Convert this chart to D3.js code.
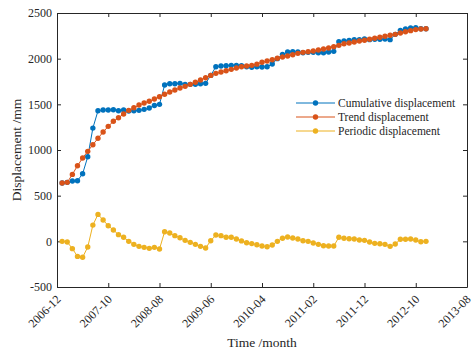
<!DOCTYPE html>
<html>
<head>
<meta charset="utf-8">
<script src="https://cdn.jsdelivr.net/npm/d3@7"></script>
<style>
  body { margin: 0; background: #fff; }
  svg { display: block; font-family: "Liberation Serif", "Times New Roman", serif; }
</style>
</head>
<body>
<div id="chart"></div>
<script>
// months counted from 2006-12 (index 0); data runs 2007-01 .. 2012-12
var tickMonths = [0, 10, 20, 30, 40, 50, 60, 70, 80];
var tickLabels = ["2006-12", "2007-10", "2008-08", "2009-06", "2010-04", "2011-02", "2011-12", "2012-10", "2013-08"];
var yTicks = [-500, 0, 500, 1000, 1500, 2000, 2500];

var cumulative = [638, 646, 660, 664, 740, 926, 1240, 1430, 1438, 1438,
  1441, 1430, 1438, 1427, 1430, 1434, 1445, 1460, 1488, 1500,
  1711, 1726, 1726, 1730, 1719, 1719, 1719, 1726, 1730, 1817,
  1912, 1919, 1923, 1927, 1927, 1923, 1912, 1905, 1912, 1908,
  1912, 1941, 2000, 2047, 2073, 2076, 2073, 2065, 2069, 2069,
  2065, 2065, 2073, 2080, 2186, 2193, 2200, 2208, 2208, 2215,
  2208, 2212, 2212, 2215, 2208, 2266, 2310, 2325, 2336, 2340,
  2328, 2328];

var trend = [638, 646, 733, 828, 912, 985, 1058, 1128, 1197, 1259,
  1314, 1353, 1394, 1434, 1463, 1492, 1514, 1534, 1558, 1583,
  1610, 1635, 1657, 1679, 1697, 1719, 1741, 1766, 1791, 1817,
  1839, 1854, 1868, 1883, 1898, 1912, 1919, 1927, 1940, 1960,
  1974, 1988, 2004, 2018, 2029, 2043, 2058, 2069, 2076, 2084,
  2095, 2106, 2117, 2131, 2146, 2163, 2172, 2182, 2193, 2201,
  2212, 2223, 2234, 2245, 2256, 2266, 2281, 2295, 2307, 2318,
  2325, 2328];

var periodic = [0, -8, -80, -165, -175, -62, 178, 295, 233, 171,
  124, 73, 44, 0, -33, -55, -66, -77, -66, -84,
  105, 91, 62, 40, 11, -11, -33, -55, -73, 7,
  69, 62, 44, 44, 25, 5, -15, -25, -37, -51,
  -59, -40, 0, 33, 47, 36, 25, 7, 0, -18,
  -33, -48, -51, -51, 44, 33, 29, 25, 14, 11,
  -8, -22, -26, -33, -55, -29, 22, 22, 25, 14,
  -4, 0];

var seriesNames = ["Cumulative displacement", "Trend displacement", "Periodic displacement"];
var colors = ["#0072BD", "#D95319", "#EDB120"];

var width = 474, height = 352;
var plotLeft = 57, plotRight = 467, plotTop = 13, plotBottom = 287;

var svg = d3.select("#chart").append("svg")
    .attr("width", width)
    .attr("height", height);

var x = d3.scaleLinear().domain([0, 80]).range([plotLeft, plotRight]);
var y = d3.scaleLinear().domain([-500, 2500]).range([plotBottom, plotTop]);

var axisColor = "#262626";

function styleAxis(g) {
  g.selectAll("path").attr("stroke", axisColor).attr("stroke-width", 1);
  g.selectAll("line").attr("stroke", axisColor).attr("stroke-width", 1);
  g.selectAll("text").attr("fill", axisColor).style("font-family", "Liberation Serif");
}

// left axis
svg.append("g")
    .attr("transform", "translate(" + plotLeft + ",0)")
    .call(d3.axisLeft(y).tickValues(yTicks).tickSize(-4).tickSizeOuter(0).tickPadding(5)
          .tickFormat(function(d) { return String(d); }))
    .call(styleAxis)
    .selectAll("text").attr("font-size", 12);

// right axis
svg.append("g")
    .attr("transform", "translate(" + plotRight + ",0)")
    .call(d3.axisRight(y).tickValues(yTicks).tickSize(-4).tickSizeOuter(0).tickFormat(""))
    .call(styleAxis);

// top axis
svg.append("g")
    .attr("transform", "translate(0," + plotTop + ")")
    .call(d3.axisTop(x).tickValues(tickMonths).tickSize(-4).tickSizeOuter(0).tickFormat(""))
    .call(styleAxis);

// bottom axis
var xg = svg.append("g")
    .attr("transform", "translate(0," + plotBottom + ")")
    .call(d3.axisBottom(x).tickValues(tickMonths).tickSize(-4).tickSizeOuter(0)
          .tickFormat(function(d, i) { return tickLabels[i]; }))
    .call(styleAxis);

xg.selectAll("text")
    .attr("font-size", 12)
    .attr("text-anchor", "end")
    .attr("y", 0)
    .attr("dy", 0)
    .attr("transform", "translate(4,13) rotate(-45)");

// axis titles
svg.append("text")
    .attr("x", (plotLeft + plotRight) / 2)
    .attr("y", 347)
    .attr("text-anchor", "middle")
    .attr("font-size", 13.5)
    .attr("fill", axisColor)
    .text("Time /month");

svg.append("text")
    .attr("transform", "translate(21," + ((plotTop + plotBottom) / 2) + ") rotate(-90)")
    .attr("text-anchor", "middle")
    .attr("font-size", 13.5)
    .attr("fill", axisColor)
    .text("Displacement /mm");

// series
var allSeries = [cumulative, trend, periodic];
var line = d3.line()
    .x(function(d, i) { return x(i + 1); })
    .y(function(d) { return y(d); });

allSeries.forEach(function(values, k) {
  var g = svg.append("g");
  g.append("path")
      .datum(values)
      .attr("fill", "none")
      .attr("stroke", colors[k])
      .attr("stroke-width", 1)
      .attr("d", line);
  g.selectAll("circle")
      .data(values)
      .enter().append("circle")
      .attr("cx", function(d, i) { return x(i + 1); })
      .attr("cy", function(d) { return y(d); })
      .attr("r", 2.7)
      .attr("fill", colors[k]);
});

// legend
var legend = svg.append("g");
seriesNames.forEach(function(name, k) {
  var ly = 103 + k * 14;
  legend.append("line")
      .attr("x1", 296).attr("x2", 335)
      .attr("y1", ly).attr("y2", ly)
      .attr("stroke", colors[k])
      .attr("stroke-width", 1);
  legend.append("circle")
      .attr("cx", 315.5).attr("cy", ly)
      .attr("r", 2.7)
      .attr("fill", colors[k]);
  legend.append("text")
      .attr("x", 338).attr("y", ly)
      .attr("dy", "0.35em")
      .attr("font-size", 11.5)
      .attr("fill", axisColor)
      .text(name);
});
</script>
</body>
</html>
